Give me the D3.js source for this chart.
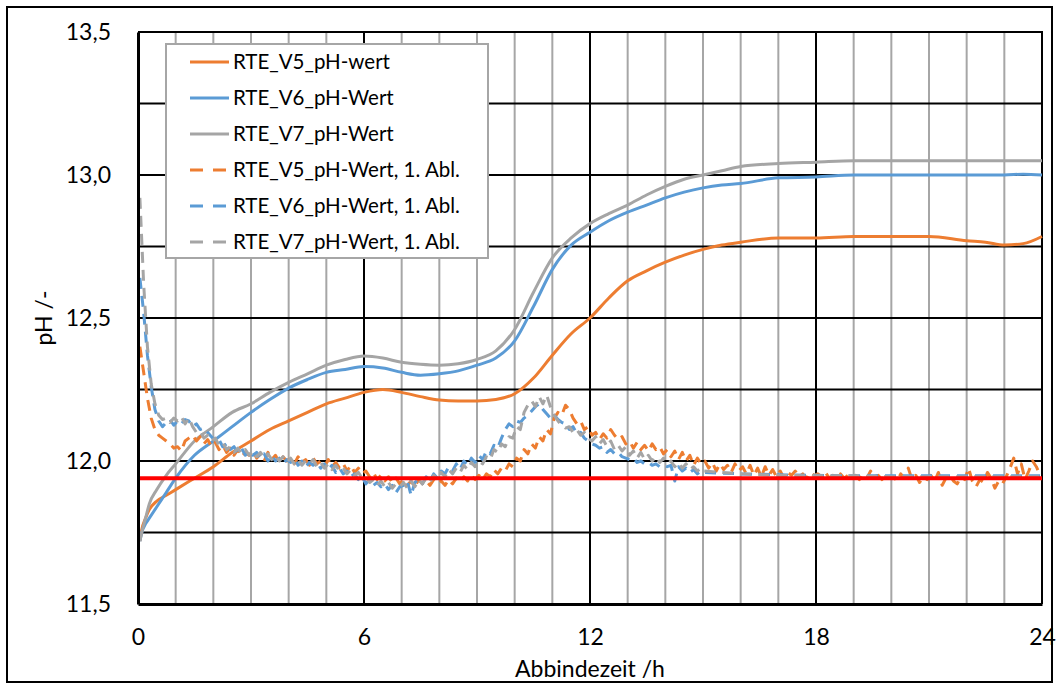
<!DOCTYPE html>
<html>
<head>
<meta charset="utf-8">
<script src="https://cdn.jsdelivr.net/npm/d3@7"></script>
<style>
  body { margin: 0; background: #fff; }
  svg { display: block; }
  text { font-family: Lato, "Noto Sans", "Open Sans", sans-serif; fill: #000; }
</style>
</head>
<body>
<svg id="chart" width="1059" height="689"></svg>
<script>
// ---- data -------------------------------------------------------------
// sampling times (h) of the pH curves
const phTime = [0.05, 0.1, 0.2, 0.3, 0.5, 0.75, 1, 1.5, 2, 2.5, 3, 3.5, 4, 4.5, 5, 5.5, 6, 6.5, 7, 7.5,
  8, 8.5, 9, 9.5, 10, 10.5, 11, 11.5, 12, 12.5, 13, 13.5, 14, 14.5, 15, 15.5, 16, 17, 18, 19, 20, 21,
  22, 22.5, 23, 23.5, 24];

const phV5 = [11.72, 11.76, 11.80, 11.83, 11.86, 11.88, 11.90, 11.94, 11.98, 12.03, 12.07, 12.11, 12.14,
  12.17, 12.20, 12.22, 12.24, 12.25, 12.24, 12.225, 12.213, 12.21, 12.21, 12.215, 12.235, 12.29, 12.37,
  12.445, 12.50, 12.57, 12.63, 12.665, 12.695, 12.72, 12.74, 12.755, 12.765, 12.78, 12.78, 12.785, 12.785,
  12.785, 12.77, 12.765, 12.755, 12.76, 12.785];

const phV6 = [11.72, 11.75, 11.78, 11.80, 11.84, 11.89, 11.94, 12.02, 12.07, 12.12, 12.17, 12.215, 12.255,
  12.285, 12.31, 12.32, 12.33, 12.325, 12.31, 12.30, 12.305, 12.315, 12.335, 12.36, 12.42, 12.54, 12.67,
  12.755, 12.80, 12.84, 12.87, 12.895, 12.92, 12.94, 12.955, 12.965, 12.97, 12.99, 12.993, 13.0, 13.0,
  13.0, 13.0, 13.0, 13.0, 13.003, 13.0];

const phV7 = [11.72, 11.75, 11.80, 11.85, 11.90, 11.95, 11.99, 12.07, 12.12, 12.17, 12.20, 12.24, 12.275,
  12.305, 12.335, 12.355, 12.367, 12.36, 12.345, 12.338, 12.335, 12.34, 12.355, 12.385, 12.46, 12.59,
  12.71, 12.78, 12.83, 12.865, 12.895, 12.93, 12.96, 12.985, 13.0, 13.015, 13.03, 13.04, 13.045, 13.05,
  13.05, 13.05, 13.05, 13.05, 13.05, 13.05, 13.05];

// first derivative curves, sampled every 0.1 h starting at 0.05 h
const ablStart = 0.05;
const ablStep = 0.1;

const ablV5 = [
  12.40, 12.31, 12.22, 12.15, 12.11, 12.09, 12.08, 12.07, 12.06, 12.045,
  12.05, 12.035, 12.07, 12.08, 12.09, 12.07, 12.085, 12.06, 12.075, 12.05,
  12.065, 12.04, 12.055, 12.03, 12.045, 12.02, 12.04, 12.015, 12.03, 12.02,
  12.035, 12.01, 12.025, 12.0, 12.03, 12.005, 12.02, 11.995, 12.015, 12.0,
  12.01, 11.99, 12.015, 11.995, 12.005, 11.985, 12.01, 11.99, 12.0, 11.98,
  12.005, 11.98, 11.995, 11.975, 11.99, 11.965, 11.985, 11.96, 11.975, 11.955,
  11.965, 11.945, 11.96, 11.935, 11.95, 11.93, 11.945, 11.925, 11.94, 11.92,
  11.935, 11.915, 11.93, 11.91, 11.935, 11.92, 11.93, 11.915, 11.935, 11.92,
  11.93, 11.915, 11.935, 11.92, 11.94, 11.925, 11.945, 11.93, 11.95, 11.935,
  11.95, 11.935, 11.955, 11.945, 11.97, 11.955, 11.975, 11.965, 11.99, 11.98,
  12.01, 12.0, 12.04, 12.025, 12.06, 12.045, 12.085, 12.07, 12.11, 12.095,
  12.15, 12.17, 12.16, 12.195, 12.18, 12.15, 12.13, 12.14, 12.11, 12.12,
  12.09, 12.1, 12.075, 12.095, 12.08, 12.11, 12.09, 12.075, 12.085, 12.06,
  12.07, 12.045, 12.065, 12.04, 12.055, 12.035, 12.06, 12.04, 12.05, 12.025,
  12.04, 12.015, 12.035, 12.005, 12.03, 12.0, 12.02, 11.985, 12.01, 11.99,
  12.0, 11.975, 11.995, 11.965, 11.99, 11.97, 11.985, 11.96, 11.99, 11.965,
  11.98, 11.955, 11.985, 11.95, 11.975, 11.945, 11.98, 11.95, 11.97, 11.945,
  11.965, 11.94, 11.96, 11.95, 11.965, 11.945, 11.955, 11.94, 11.96, 11.95,
  11.955, 11.945, 11.96, 11.94, 11.95, 11.945, 11.955, 11.94, 11.95, 11.945,
  11.95, 11.935, 11.955, 11.94, 11.965, 11.945, 11.95, 11.935, 11.955, 11.94,
  11.945, 11.93, 11.955, 11.94, 11.975, 11.935, 11.95, 11.925, 11.945, 11.935,
  11.95, 11.93, 11.96, 11.915, 11.94, 11.95, 11.93, 11.92, 11.945, 11.935,
  11.975, 11.93, 11.91, 11.935, 11.925, 11.96, 11.94, 11.905, 11.93, 11.92,
  11.945, 11.975, 12.01, 11.955, 11.99, 11.935, 11.965, 12.0, 11.98, 11.95
];

const ablV6 = [
  12.64, 12.52, 12.37, 12.26, 12.18, 12.14, 12.12, 12.135, 12.145, 12.125,
  12.14, 12.13, 12.145, 12.14, 12.12, 12.13, 12.11, 12.115, 12.1, 12.085,
  12.07, 12.075, 12.05, 12.06, 12.04, 12.05, 12.03, 12.045, 12.02, 12.035,
  12.02, 12.03, 12.01, 12.025, 12.0, 12.02, 12.0, 12.01, 11.99, 12.005,
  11.995, 12.01, 11.985, 12.0, 11.98, 11.995, 11.985, 11.995, 11.975, 11.99,
  11.97, 11.985, 11.96, 11.975, 11.955, 11.965, 11.945, 11.955, 11.935, 11.945,
  11.92, 11.935, 11.915, 11.925, 11.91, 11.92, 11.9, 11.915, 11.89, 11.91,
  11.915, 11.93, 11.88, 11.925, 11.935, 11.92, 11.945, 11.93, 11.955, 11.94,
  11.965, 11.955, 11.98, 11.965, 11.99, 11.97, 12.0, 11.985, 12.01, 11.995,
  12.02, 12.005, 12.035, 12.025, 12.055, 12.045, 12.08, 12.11, 12.13, 12.12,
  12.14, 12.135, 12.15, 12.16, 12.175, 12.19, 12.2, 12.18, 12.165, 12.15,
  12.16, 12.145, 12.135, 12.13, 12.11, 12.12, 12.095, 12.1, 12.08, 12.07,
  12.06, 12.055, 12.045, 12.05, 12.03, 12.04, 12.025, 12.03, 12.015, 12.01,
  12.005, 12.01, 11.995, 12.0, 11.99, 11.995, 11.985, 11.99, 11.98, 11.985,
  11.98, 11.985, 11.93, 11.98, 11.965, 11.975, 11.96, 11.97, 11.955, 11.965
];

const ablV7 = [
  12.92, 12.62, 12.40, 12.27, 12.20, 12.16, 12.145, 12.15, 12.135, 12.15,
  12.14, 12.155, 12.13, 12.15, 12.12, 12.10, 12.105, 12.08, 12.09, 12.07,
  12.08, 12.055, 12.065, 12.04, 12.05, 12.03, 12.045, 12.025, 12.04, 12.02,
  12.035, 12.015, 12.03, 12.01, 12.025, 12.005, 12.02, 12.0, 12.015, 11.995,
  12.01, 11.99, 12.005, 11.985, 12.0, 11.99, 12.005, 11.98, 11.995, 11.975,
  11.99, 11.97, 11.985, 11.965, 11.975, 11.955, 11.97, 11.95, 11.96, 11.94,
  11.945, 11.925, 11.935, 11.915, 11.93, 11.91, 11.925, 11.905, 11.92, 11.91,
  11.925, 11.905, 11.93, 11.91, 11.935, 11.92, 11.94, 11.925, 11.95, 11.935,
  11.96, 11.945, 11.97, 11.955, 11.975, 11.96, 11.985, 11.97, 11.995, 11.98,
  12.0, 11.99, 12.015, 12.005, 12.04, 12.03, 12.06, 12.05, 12.085, 12.08,
  12.12, 12.11, 12.17, 12.195, 12.21, 12.19, 12.225, 12.2, 12.23, 12.19,
  12.16, 12.14, 12.125, 12.115, 12.12, 12.1, 12.11, 12.09, 12.1, 12.08,
  12.07, 12.085, 12.06, 12.075, 12.05, 12.07, 12.04, 12.055, 12.035, 12.05,
  12.02, 12.035, 12.01, 12.03, 12.005, 12.02, 12.0, 12.015, 11.995, 12.01,
  11.99, 12.0, 11.98, 11.995, 11.975, 11.99, 11.97, 11.98, 11.965, 11.975
];

// derivative tails after 15 h (flat, close to the reference level)
const tailTime = [15, 16, 17, 18, 19, 20, 21, 22, 23, 24];
const tailV6 = [11.96, 11.955, 11.952, 11.95, 11.948, 11.948, 11.948, 11.948, 11.948, 11.948];
const tailV7 = [11.965, 11.955, 11.95, 11.948, 11.948, 11.945, 11.945, 11.945, 11.945, 11.945];

// reference pH level (red line)
const refPH = 11.94;

const seriesNames = ["RTE_V5_pH-wert", "RTE_V6_pH-Wert", "RTE_V7_pH-Wert",
  "RTE_V5_pH-Wert, 1. Abl.", "RTE_V6_pH-Wert, 1. Abl.", "RTE_V7_pH-Wert, 1. Abl."];
const seriesColors = ["#ED7D31", "#5B9BD5", "#A5A5A5", "#ED7D31", "#5B9BD5", "#A5A5A5"];

const xTicks = [0, 6, 12, 18, 24];
const yTicks = [11.5, 12.0, 12.5, 13.0, 13.5];
const xTitle = "Abbindezeit /h";
const yTitle = "pH /-";

// ---- build point lists ------------------------------------------------
const zipPts = (ts, vs) => ts.map((t, i) => [t, vs[i]]);
const ablPts = vs => vs.map((v, i) => [ablStart + i * ablStep, v]);

const series = [
  { pts: zipPts(phTime, phV5), dashed: false },
  { pts: zipPts(phTime, phV6), dashed: false },
  { pts: zipPts(phTime, phV7), dashed: false },
  { pts: ablPts(ablV5), dashed: true },
  { pts: ablPts(ablV6).concat(zipPts(tailTime, tailV6)), dashed: true },
  { pts: ablPts(ablV7).concat(zipPts(tailTime, tailV7)), dashed: true }
];

// ---- layout -----------------------------------------------------------
const svg = d3.select("#chart");
const W = 1059, H = 689;
const plot = { left: 138, right: 1042, top: 32, bottom: 604 };

const x = d3.scaleLinear().domain([0, 24]).range([plot.left, plot.right]);
const y = d3.scaleLinear().domain([11.5, 13.5]).range([plot.bottom, plot.top]);

const de = d3.formatLocale({ decimal: ",", thousands: ".", grouping: [3], currency: ["", " €"] });
const fmt1 = de.format(".1f");

// outer frame
svg.append("rect")
  .attr("x", 7).attr("y", 7).attr("width", W - 14).attr("height", H - 14)
  .attr("fill", "#fff").attr("stroke", "#000").attr("stroke-width", 2);

// vertical grid: hourly gray, every 6 h black
const g = svg.append("g");
g.selectAll("line.vminor")
  .data(d3.range(1, 24).filter(h => h % 6 !== 0))
  .join("line")
  .attr("x1", d => x(d)).attr("x2", d => x(d))
  .attr("y1", plot.top).attr("y2", plot.bottom)
  .attr("stroke", "#A6A6A6").attr("stroke-width", 2);
g.selectAll("line.vmajor")
  .data([6, 12, 18])
  .join("line")
  .attr("x1", d => x(d)).attr("x2", d => x(d))
  .attr("y1", plot.top).attr("y2", plot.bottom)
  .attr("stroke", "#000").attr("stroke-width", 2);
// horizontal grid every 0.25
g.selectAll("line.h")
  .data(d3.range(1, 8).map(i => 11.5 + i * 0.25))
  .join("line")
  .attr("x1", plot.left).attr("x2", plot.right)
  .attr("y1", d => y(d)).attr("y2", d => y(d))
  .attr("stroke", "#000").attr("stroke-width", 2);

// plot border (top / right)
svg.append("path")
  .attr("d", `M${plot.left},${y(13.5)}H${x(24)}V${y(11.5)}`)
  .attr("fill", "none").attr("stroke", "#000").attr("stroke-width", 2);

// series: smooth pH curves, raw derivative polylines
const smoothLine = d3.line().x(d => x(d[0])).y(d => y(d[1])).curve(d3.curveMonotoneX);
const rawLine = d3.line().x(d => x(d[0])).y(d => y(d[1]));
const sg = svg.append("g").attr("fill", "none").attr("stroke-linejoin", "round");
series.forEach((s, i) => {
  sg.append("path")
    .attr("d", (s.dashed ? rawLine : smoothLine)(s.pts))
    .attr("stroke", seriesColors[i])
    .attr("stroke-width", 3)
    .attr("stroke-dasharray", s.dashed ? "11,7" : null);
});

// reference level
svg.append("line")
  .attr("x1", x(0)).attr("x2", x(24))
  .attr("y1", y(refPH)).attr("y2", y(refPH))
  .attr("stroke", "#FF0000").attr("stroke-width", 4);

// axes
const yAxis = svg.append("g")
  .attr("transform", `translate(${plot.left},0)`)
  .call(d3.axisLeft(y).tickValues(yTicks).tickFormat(fmt1).tickSize(0).tickPadding(27));
yAxis.select(".domain").attr("stroke", "#000").attr("stroke-width", 3);
yAxis.selectAll("text").style("font-size", "23px").attr("fill", "#000");

const xAxis = svg.append("g")
  .attr("transform", `translate(0,${plot.bottom})`)
  .call(d3.axisBottom(x).tickValues(xTicks).tickFormat(d3.format("d")).tickSize(0).tickPadding(25));
xAxis.select(".domain").attr("stroke", "#000").attr("stroke-width", 3);
xAxis.selectAll("text").style("font-size", "23px").attr("fill", "#000");

// axis titles
svg.append("text")
  .attr("x", (plot.left + plot.right) / 2).attr("y", 677)
  .attr("text-anchor", "middle").style("font-size", "23px")
  .text(xTitle);
svg.append("text")
  .attr("transform", `translate(52,${(plot.top + plot.bottom) / 2}) rotate(-90)`)
  .attr("text-anchor", "middle").style("font-size", "23px")
  .text(yTitle);

// legend
const lg = svg.append("g").attr("transform", "translate(166,44)");
lg.append("rect")
  .attr("width", 322).attr("height", 214)
  .attr("fill", "#fff").attr("stroke", "#A6A6A6").attr("stroke-width", 2);
seriesNames.forEach((name, i) => {
  const cy = 18 + i * 36;
  lg.append("line")
    .attr("x1", 24).attr("x2", 63).attr("y1", cy).attr("y2", cy)
    .attr("stroke", seriesColors[i]).attr("stroke-width", 3)
    .attr("stroke-dasharray", i >= 3 ? "13,10" : null);
  lg.append("text")
    .attr("x", 67).attr("y", cy).attr("dy", "0.36em")
    .style("font-size", "20.5px")
    .text(name);
});
</script>
</body>
</html>
